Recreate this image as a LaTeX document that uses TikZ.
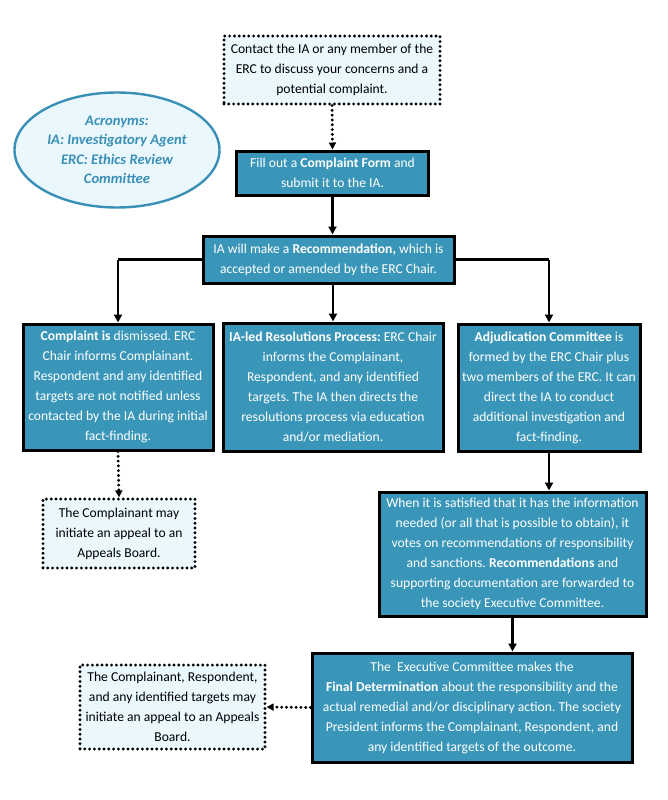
\documentclass[tikz,border=0pt]{standalone}
\usepackage{fontspec}
\setmainfont{Carlito}
\frenchspacing
\usetikzlibrary{arrows.meta,shapes.geometric}
\definecolor{teal}{HTML}{3A96B9}
\definecolor{pale}{HTML}{EAF8FD}
\definecolor{ellb}{HTML}{3A8FB7}
\begin{document}
\begin{tikzpicture}[x=1pt,y=-1pt,
  font=\fontsize{13.6}{20}\selectfont,
  mainbox/.style={draw=black,line width=3pt,fill=teal,text=white,align=center,inner sep=0pt},
  dotbox/.style={draw=black,line width=3.2pt,line cap=round,dash pattern=on 0pt off 4.8pt,fill=pale,text=black,align=center,inner sep=0pt},
  solidarrow/.style={line width=2.4pt,-{Triangle[length=8pt,width=8pt]}},
  dotarrow/.style={line width=3.2pt,line cap=round,dash pattern=on 0pt off 4.8pt,-{Triangle[length=7pt,width=7pt]}},
  plainline/.style={line width=2.4pt}]
\useasboundingbox (0,0) rectangle (667,800);
\node[dotbox,minimum width=216pt,minimum height=68pt] (contact) at (332,70)
  {Contact the IA or any member of the\\ERC to discuss your concerns and a\\potential complaint.};
\node[ellipse,draw=ellb,line width=2.4pt,fill=pale,minimum width=205pt,minimum height=115pt,inner sep=0pt,
  text=ellb,font=\fontsize{14.6}{19.5}\selectfont\bfseries\itshape,align=center] (acro) at (117,150)
  {Acronyms:\\IA: Investigatory Agent\\ERC: Ethics Review\\Committee};
\node[mainbox,minimum width=192pt,minimum height=44pt] (form) at (332.5,173)
  {Fill out a \textbf{Complaint Form} and\\submit it to the IA.};
\node[mainbox,minimum width=251pt,minimum height=47pt] (rec) at (328.5,259.5)
  {IA will make a \textbf{Recommendation,} which is\\accepted or amended by the ERC Chair.};
\node[mainbox,minimum width=190pt,minimum height=126pt] (dis) at (118,387)
  {\textbf{Complaint is} dismissed. ERC\\Chair informs Complainant.\\Respondent and any identified\\targets are not notified unless\\contacted by the IA during initial\\fact-finding.};
\node[mainbox,minimum width=220pt,minimum height=128pt] (res) at (333,387)
  {\textbf{IA-led Resolutions Process:} ERC Chair\\informs the Complainant,\\Respondent, and any identified\\targets. The IA then directs the\\resolutions process via education\\and/or mediation.};
\node[mainbox,minimum width=182pt,minimum height=127pt] (adj) at (549,387.5)
  {\textbf{Adjudication Committee} is\\formed by the ERC Chair plus\\two members of the ERC. It can\\direct the IA to conduct\\additional investigation and\\fact-finding.};
\node[dotbox,minimum width=152pt,minimum height=69pt] (appeal1) at (119,533.5)
  {The Complainant may\\initiate an appeal to an\\Appeals Board.};
\node[mainbox,minimum width=267pt,minimum height=124pt] (vote) at (512.5,554)
  {When it is satisfied that it has the information\\needed (or all that is possible to obtain), it\\votes on recommendations of responsibility\\and sanctions. \textbf{Recommendations} and\\supporting documentation are forwarded to\\the society Executive Committee.};
\node[mainbox,minimum width=320pt,minimum height=109pt] (final) at (472,707.5)
  {The\ \ Executive Committee makes the\\\textbf{Final Determination} about the responsibility and the\\actual remedial and/or disciplinary action. The society\\President informs the Complainant, Respondent, and\\any identified targets of the outcome.};
\node[dotbox,minimum width=185pt,minimum height=84pt] (appeal2) at (172.5,707)
  {The Complainant, Respondent,\\and any identified targets may\\initiate an appeal to an Appeals\\Board.};
% connectors
\draw[dotarrow] (contact.south) -- (form.north);
\draw[solidarrow] (form.south) -- (form.south |- rec.north);
\coordinate (jl) at (dis.north |- rec.west);
\coordinate (jr) at (adj.north |- rec.east);
\draw[plainline] (rec.west) -- (jl);
\draw[plainline] (rec.east) -- (jr);
\draw[solidarrow] (jl) -- (dis.north);
\draw[solidarrow] (jr) -- (adj.north);
\draw[solidarrow] (res.north |- rec.south) -- (res.north);
\draw[dotarrow] (dis.south) -- (appeal1.north);
\draw[solidarrow] (adj.south) -- (adj.south |- vote.north);
\draw[solidarrow] (vote.south) -- (vote.south |- final.north);
\draw[dotarrow] (final.west) -- (appeal2.east);
\end{tikzpicture}
\end{document}
